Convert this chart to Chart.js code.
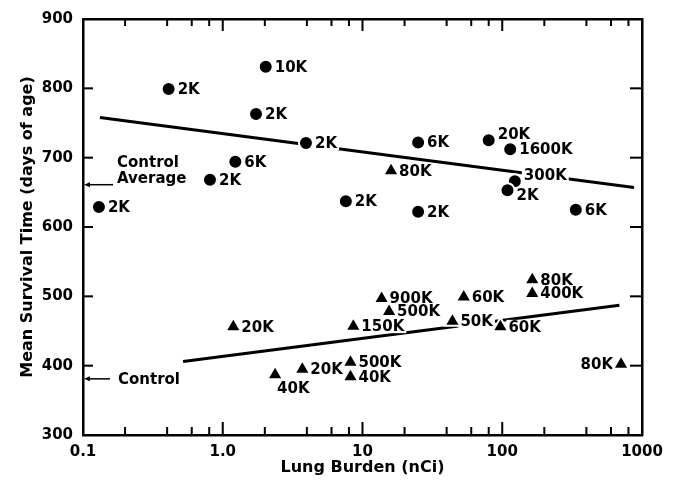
<!DOCTYPE html>
<html>
<head>
<meta charset="utf-8">
<script src="https://cdn.jsdelivr.net/npm/chart.js@4.4.1/dist/chart.umd.min.js"></script>
<style>
    html,body{margin:0;padding:0;background:#fff;}
    .wrap{width:675px;height:482px;position:relative;}
</style>
</head>
<body>
<div class="wrap"><canvas id="survivalChart"></canvas></div>
<script>
/* =========================
   DATA
========================= */

// circles: lung burden (nCi), mean survival (days), dose label
const circleBurden   = [0.13, 0.41, 2.03, 1.73, 3.94, 1.23, 0.81, 7.6, 25, 25, 80, 114, 123, 109, 336];
const circleSurvival = [629, 799, 831, 763, 721, 694, 668, 637, 722, 622, 725, 712, 666, 653, 625];
const circleLabels   = ["2K","2K","10K","2K","2K","6K","2K","2K","6K","2K","20K","1600K","300K","2K","6K"];

// triangles
const triBurden   = [16, 1.19, 2.37, 3.71, 8.2, 8.2, 8.6, 13.7, 15.5, 53, 44, 97, 164, 164, 708];
const triSurvival = [681, 456, 387, 395, 405, 384, 457, 497, 478, 499, 464, 456, 524, 504, 402];
const triLabels   = ["80K","20K","40K","20K","500K","40K","150K","900K","500K","60K","50K","60K","80K","400K","80K"];

// fitted lines (end points)
const upperFitBurden   = [0.132, 877];
const upperFitSurvival = [758, 657];
const lowerFitBurden   = [0.52, 689];
const lowerFitSurvival = [406, 487];

// control references
const controlAverage = 661;
const controlValue   = 381;

// axes
const xTickValues = [0.1,0.2,0.4,0.6,0.8,1,2,4,6,8,10,20,40,60,80,100,200,400,600,800,1000];
const xMajorValues = [0.1, 1, 10, 100, 1000];
const xTickLabels  = ["0.1","1.0","10","100","1000"];
const yTickValues  = [300,400,500,600,700,800,900];

/* =========================
   LABEL PLACEMENT
========================= */

// r = right, ur = up-right, dr = down-right, b = below, l = left
const circlePlace = ["r","r","r","r","r","r","r","r","r","r","ur","r","ur","dr","r"];
const triPlace    = ["r","r","b","r","r","r","r","r","r","r","r","r","r","r","l"];

const FONT = "DejaVu Sans";

function toPoints(xs, ys){
    return xs.map((v,i)=>({x:v, y:ys[i]}));
}

/* =========================
   PLUGINS
========================= */

const pointLabels = {
    id:"pointLabels",
    afterDatasetDraw(chart, args){
        if(args.index !== 3) return; // after the last fit line
        const {ctx} = chart;
        ctx.save();
        ctx.font = "bold 15px '" + FONT + "'";
        ctx.textBaseline = "middle";
        const sets = [
            {meta:chart.getDatasetMeta(0), labels:circleLabels, place:circlePlace, gap:9},
            {meta:chart.getDatasetMeta(1), labels:triLabels, place:triPlace, gap:8}
        ];
        sets.forEach(s=>{
            s.meta.data.forEach((el,i)=>{
                const txt = s.labels[i];
                const w = ctx.measureText(txt).width;
                let tx = el.x + s.gap, ty = el.y, align = "left";
                if(s.place[i] === "ur"){ ty -= 6; }
                if(s.place[i] === "dr"){ ty += 5; }
                if(s.place[i] === "b"){ tx = el.x + 2; ty += 13; }
                if(s.place[i] === "l"){ tx = el.x - s.gap; align = "right"; }
                const left = align === "left" ? tx : tx - w;
                ctx.fillStyle = "#fff";
                ctx.fillRect(left - 2, ty - 7, w + 4, 14);
                ctx.fillStyle = "#000";
                ctx.textAlign = align;
                ctx.fillText(txt, tx, ty + 1);
            });
        });
        ctx.restore();
    }
};

const frameTicks = {
    id:"frameTicks",
    afterDraw(chart){
        const ctx = chart.ctx;
        const a = chart.chartArea;
        const xs = chart.scales.x, ys = chart.scales.y;
        ctx.save();
        ctx.fillStyle = "#000";

        // box
        ctx.fillRect(a.left - 1, a.top - 1, a.right - a.left + 2, 2.5);
        ctx.fillRect(a.left - 1, a.bottom - 1, a.right - a.left + 2, 2.5);
        ctx.fillRect(a.left - 1, a.top - 1, 2.5, a.bottom - a.top + 2);
        ctx.fillRect(a.right - 1, a.top - 1, 2.5, a.bottom - a.top + 2);

        // inward ticks, bottom and top
        xTickValues.forEach(v=>{
            const px = xs.getPixelForValue(v);
            const len = xMajorValues.includes(v) ? 13 : 8;
            ctx.fillRect(px - 1, a.bottom - len, 2, len);
            ctx.fillRect(px - 1, a.top, 2, len - 1);
        });

        // inward ticks, left and right
        yTickValues.slice(1, -1).forEach(v=>{
            const py = ys.getPixelForValue(v);
            ctx.fillRect(a.left, py - 1, 10, 2);
            ctx.fillRect(a.right - 12, py - 1, 12, 2);
        });

        // control arrows
        ctx.font = "bold 15px '" + FONT + "'";
        ctx.textAlign = "left";
        ctx.textBaseline = "alphabetic";
        const arrow = (py, len)=>{
            ctx.fillRect(a.left + 4, py - 0.75, len - 4, 1.5);
            ctx.beginPath();
            ctx.moveTo(a.left + 1, py);
            ctx.lineTo(a.left + 7, py - 2.5);
            ctx.lineTo(a.left + 7, py + 2.5);
            ctx.closePath();
            ctx.fill();
        };
        const yAvg = ys.getPixelForValue(controlAverage);
        arrow(yAvg, 30);
        ctx.fillText("Control", a.left + 34, yAvg - 18);
        ctx.fillText("Average", a.left + 34, yAvg - 2);

        const yCtl = ys.getPixelForValue(controlValue);
        arrow(yCtl, 27);
        ctx.fillText("Control", a.left + 35, yCtl + 5);
        ctx.restore();
    }
};

/* =========================
   CHART
========================= */

new Chart(document.getElementById("survivalChart"),{
    type:"scatter",
    data:{
        datasets:[
            {
                label:"circles",
                data:toPoints(circleBurden, circleSurvival),
                pointStyle:"circle",
                pointRadius:7,
                backgroundColor:"#000",
                borderColor:"#fff",
                borderWidth:2,
                order:1
            },
            {
                label:"triangles",
                data:toPoints(triBurden, triSurvival),
                pointStyle:"triangle",
                pointRadius:9,
                backgroundColor:"#000",
                borderColor:"#fff",
                borderWidth:2,
                order:0
            },
            {
                type:"line",
                label:"upper fit",
                data:toPoints(upperFitBurden, upperFitSurvival),
                borderColor:"#000",
                borderWidth:3,
                pointRadius:0,
                order:3
            },
            {
                type:"line",
                label:"lower fit",
                data:toPoints(lowerFitBurden, lowerFitSurvival),
                borderColor:"#000",
                borderWidth:3,
                pointRadius:0,
                order:2
            }
        ]
    },
    options:{
        responsive:true,
        maintainAspectRatio:false,
        animation:false,
        events:[],
        layout:{padding:{top:15, right:33, left:0, bottom:0}},
        plugins:{legend:{display:false}, tooltip:{enabled:false}},
        scales:{
            x:{
                type:"logarithmic",
                min:0.1,
                max:1000,
                afterBuildTicks(scale){
                    scale.ticks = xTickValues.map(v=>({value:v}));
                },
                afterFit(scale){ scale.height = 47; },
                grid:{display:false, drawTicks:false},
                border:{display:false},
                ticks:{
                    autoSkip:false,
                    maxRotation:0,
                    padding:8,
                    color:"#000",
                    font:{family:FONT, size:15, weight:"bold"},
                    callback:(v)=>{
                        const k = xMajorValues.indexOf(v);
                        return k >= 0 ? xTickLabels[k] : "";
                    }
                },
                title:{
                    display:true,
                    text:"Lung Burden (nCi)",
                    color:"#000",
                    font:{family:FONT, size:16, weight:"bold"},
                    padding:{top:0, bottom:5}
                }
            },
            y:{
                min:300,
                max:900,
                afterBuildTicks(scale){
                    scale.ticks = yTickValues.map(v=>({value:v}));
                },
                afterFit(scale){ scale.width = 83; },
                grid:{display:false, drawTicks:false},
                border:{display:false},
                ticks:{
                    padding:10,
                    color:"#000",
                    font:{family:FONT, size:15, weight:"bold"}
                },
                title:{
                    display:true,
                    text:"Mean Survival Time (days of age)",
                    color:"#000",
                    font:{family:FONT, size:16, weight:"bold"},
                    padding:{top:18, bottom:0}
                }
            }
        }
    },
    plugins:[pointLabels, frameTicks]
});
</script>
</body>
</html>
